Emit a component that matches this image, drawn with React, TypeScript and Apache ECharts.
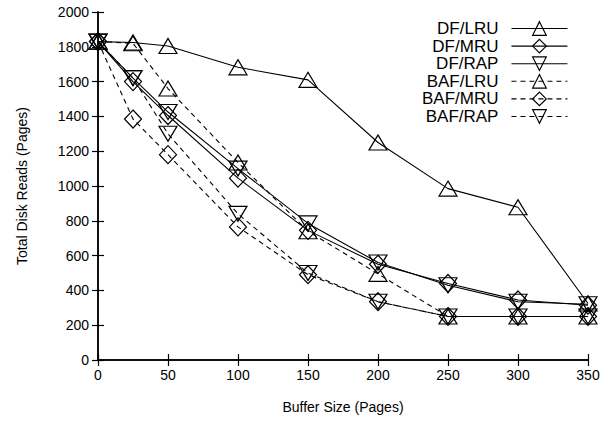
import React, { useEffect, useRef } from "react";
import * as echarts from "echarts";

const bufferSizes = [0, 25, 50, 100, 150, 200, 250, 300, 350];
const dfLru = [1830, 1825, 1805, 1682, 1610, 1250, 985, 878, 325];
const dfMru = [1830, 1600, 1405, 1045, 745, 550, 440, 345, 315];
const dfRap = [1830, 1620, 1425, 1100, 785, 560, 430, 335, 320];
const bafLru = [1830, 1820, 1560, 1135, 740, 495, 250, 250, 250];
const bafMru = [1830, 1385, 1180, 765, 490, 335, 250, 250, 250];
const bafRap = [1830, 1620, 1300, 840, 500, 335, 250, 250, 250];

const seriesDefs = [
  { name: "DF/LRU", data: dfLru, dash: false, sym: "triangle", rot: 0 },
  { name: "DF/MRU", data: dfMru, dash: false, sym: "diamond", rot: 0 },
  { name: "DF/RAP", data: dfRap, dash: false, sym: "triangle", rot: 180 },
  { name: "BAF/LRU", data: bafLru, dash: true, sym: "triangle", rot: 0 },
  { name: "BAF/MRU", data: bafMru, dash: true, sym: "diamond", rot: 0 },
  { name: "BAF/RAP", data: bafRap, dash: true, sym: "triangle", rot: 180 },
];

const FONT = "Liberation Sans";

export default function App() {
  const ref = useRef<HTMLDivElement>(null);
  useEffect(() => {
    if (!ref.current) return;
    const chart = echarts.init(ref.current, null, { renderer: "svg" });
    const axisLine = { show: true, lineStyle: { color: "#000", width: 1.5 } };
    const tick = { show: true, inside: true, length: 6, lineStyle: { color: "#000", width: 1.2 } };
    const plain = (v: number) => String(v);
    chart.setOption({
      animation: false,
      backgroundColor: "#fff",
      grid: { left: 98, right: 28, top: 12, bottom: 68 },
      legend: {
        orient: "vertical",
        right: 48,
        top: 20,
        padding: 0,
        align: "right",
        itemWidth: 56,
        itemHeight: 17,
        itemGap: 0.6,
        lineStyle: { width: 1.1 },
        itemStyle: { borderWidth: 1.2 },
        textStyle: {
          color: "#000",
          fontFamily: FONT,
          fontSize: 17,
          lineHeight: 17,
          padding: [0, 8, 0, 0],
        },
        data: seriesDefs.map((s) => s.name),
      },
      xAxis: [
        {
          type: "value",
          min: 0,
          max: 350,
          interval: 50,
          name: "Buffer Size (Pages)",
          nameLocation: "middle",
          nameGap: 40,
          nameTextStyle: { color: "#000", fontFamily: FONT, fontSize: 14 },
          axisLine,
          axisTick: tick,
          axisLabel: { color: "#000", fontFamily: FONT, fontSize: 14, margin: 8, formatter: plain },
          splitLine: { show: false },
        },
        {
          type: "value",
          position: "top",
          min: 0,
          max: 350,
          interval: 50,
          axisLine,
          axisTick: tick,
          axisLabel: { show: false },
          splitLine: { show: false },
        },
      ],
      yAxis: [
        {
          type: "value",
          min: 0,
          max: 2000,
          interval: 200,
          name: "Total Disk Reads (Pages)",
          nameLocation: "middle",
          nameGap: 69,
          nameTextStyle: { color: "#000", fontFamily: FONT, fontSize: 14 },
          axisLine,
          axisTick: tick,
          axisLabel: { color: "#000", fontFamily: FONT, fontSize: 14, margin: 9, formatter: plain },
          splitLine: { show: false },
        },
        {
          type: "value",
          position: "right",
          min: 0,
          max: 2000,
          interval: 200,
          axisLine,
          axisTick: tick,
          axisLabel: { show: false },
          splitLine: { show: false },
        },
      ],
      series: seriesDefs.map((s) => ({
        name: s.name,
        type: "line",
        xAxisIndex: 0,
        yAxisIndex: 0,
        data: bufferSizes.map((x, i) => [x, s.data[i]]),
        symbol: s.sym,
        symbolSize: s.sym === "diamond" ? [17, 18] : [18, 15],
        symbolRotate: s.rot,
        showAllSymbol: true,
        lineStyle: { color: "#000", width: 1.1, type: s.dash ? [5, 4] : "solid" },
        itemStyle: { color: "rgba(0,0,0,0)", borderColor: "#000", borderWidth: 1.2 },
        emphasis: { disabled: true },
      })),
    });
    return () => chart.dispose();
  }, []);
  return (
    <div
      ref={ref}
      style={{ position: "absolute", left: 0, top: 0, width: 616, height: 428 }}
    />
  );
}
